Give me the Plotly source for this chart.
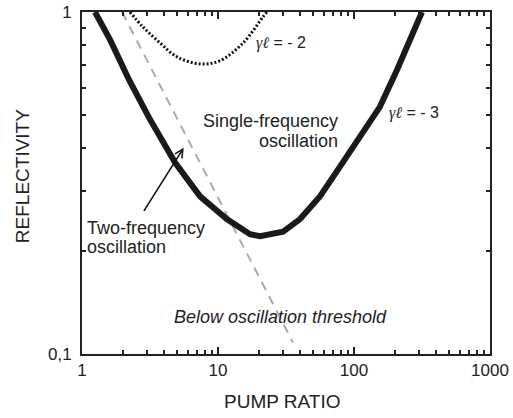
import plotly.graph_objects as go
import math

# gamma*l = -3 boundary (thick solid)
g3_pump = [1.246, 1.61, 2.22, 3.11, 4.83, 7.38, 11.6, 17.2, 20.4, 30.1, 40.1, 56.2, 78.9, 110.7, 155, 207, 258, 316]
g3_refl = [1.0, 0.829, 0.633, 0.491, 0.363, 0.289, 0.248, 0.224, 0.221, 0.228, 0.248, 0.289, 0.353, 0.429, 0.528, 0.677, 0.829, 1.0]

# gamma*l = -2 boundary (dotted)
g2_pump = [2.25, 2.81, 3.75, 5.0, 7.38, 10.3, 15.3, 21.4, 22.9]
g2_refl = [1.0, 0.904, 0.812, 0.739, 0.705, 0.72, 0.812, 0.967, 1.0]

# two-frequency boundary (grey dashed)
tf_pump = [1.97, 35.6]
tf_refl = [1.0, 0.108]

x_ticks = [1, 10, 100, 1000]
x_tick_text = ["1", "10", "100", "1000"]
y_ticks = [0.1, 1]
y_tick_text = ["0,1", "1"]

FONT = "Liberation Sans, Arial, sans-serif"
L = math.log10

fig = go.Figure()
fig.add_trace(go.Scatter(x=tf_pump, y=tf_refl, mode="lines",
                         line=dict(color="#aaaaaa", width=2, dash="9px,7px"), showlegend=False))
fig.add_trace(go.Scatter(x=g2_pump, y=g2_refl, mode="lines", line_shape="spline",
                         line=dict(color="#111111", width=3, dash="2px,2px"), showlegend=False))
fig.add_trace(go.Scatter(x=g3_pump, y=g3_refl, mode="lines",
                         line=dict(color="#1a1a1a", width=6), showlegend=False))

minor_x = [m * d for d in (1, 10, 100) for m in range(2, 10)]
minor_y = [m / 10 for m in range(2, 10)]

common = dict(ticks="inside", ticklen=7, tickwidth=1.5, tickcolor="#222",
              showline=True, linewidth=2, linecolor="#222", mirror="ticks",
              showgrid=False, zeroline=False, automargin=False,
              tickfont=dict(family=FONT, size=17, color="#222"))
fig.update_xaxes(type="log", range=[0, 3], tickvals=x_ticks, ticktext=x_tick_text,
                 minor=dict(ticks="inside", ticklen=4, tickwidth=1.5, tickcolor="#222",
                            tickvals=minor_x, showgrid=False), **common)
fig.update_yaxes(type="log", range=[-1, 0], tickvals=y_ticks, ticktext=y_tick_text,
                 ticklabelstandoff=5,
                 minor=dict(ticks="inside", ticklen=4, tickwidth=1.5, tickcolor="#222",
                            tickvals=minor_y, showgrid=False), **common)

ann = []
def txt(x, y, s, xa="left", size=18, italic=False):
    ann.append(dict(x=x, y=y, xref="x", yref="y", text=s, showarrow=False,
                    xanchor=xa, yanchor="middle",
                    font=dict(family=FONT, size=size, color="#222",
                              style="italic" if italic else "normal")))

txt(L(1.05), L(0.2330), "Two-frequency")
txt(L(1.05), L(0.2051), "oscillation")
txt(L(78.9), L(0.4794), "Single-frequency", xa="right")
txt(L(78.9), L(0.4193), "oscillation", xa="right")
txt(L(29.0), L(0.1282), "Below oscillation threshold", xa="center", italic=True)
gam = "<span style='font-family:Liberation Serif;font-style:italic'>γℓ</span> = - "
txt(L(18.5), L(0.812), gam + "2", size=16)
txt(L(175), L(0.5074), gam + "3", size=16)
ann.append(dict(x=L(5.6), y=L(0.401), ax=L(2.81), ay=L(0.2594), xref="x", yref="y",
                axref="x", ayref="y", text="", showarrow=True, arrowhead=5,
                arrowsize=1, arrowwidth=1.6, arrowcolor="#111"))
ann.append(dict(x=0.49, y=-0.14, xref="paper", yref="paper", text="PUMP RATIO",
                showarrow=False, xanchor="center", yanchor="middle",
                font=dict(family=FONT, size=19, color="#222")))
ann.append(dict(x=-0.147, y=0.52, xref="paper", yref="paper", text="REFLECTIVITY",
                showarrow=False, xanchor="center", yanchor="middle", textangle=-90,
                font=dict(family=FONT, size=19, color="#222")))

fig.update_layout(width=513, height=418, margin=dict(l=82, r=23, t=12, b=64),
                  plot_bgcolor="white", paper_bgcolor="white", annotations=ann,
                  showlegend=False)
fig.write_html("out.html", config={"displayModeBar": False},
               post_script="document.body.style.margin='0';document.body.style.overflow='hidden';")
